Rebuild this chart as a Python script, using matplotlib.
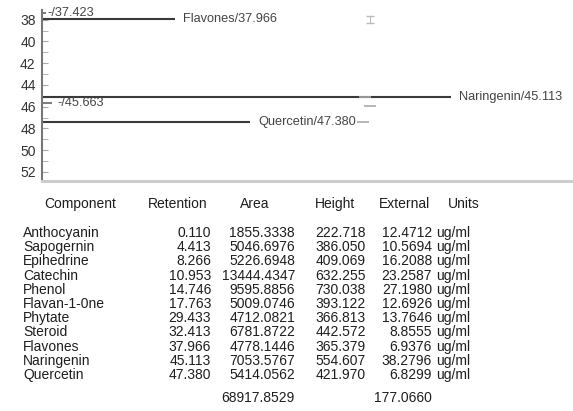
import matplotlib.pyplot as plt

plt.rcParams['font.family'] = ['Liberation Sans', 'DejaVu Sans']

# Peaks drawn in the chromatogram window (retention, min / relative response, %)
peak_names = ['Flavones', 'Naringenin', 'Quercetin']
peak_rt = [37.966, 45.113, 47.380]
peak_resp = [25.0, 77.0, 39.2]

# Small unnamed peaks
minor_rt = [37.423, 45.663]
minor_resp = [0.8, 1.9]

# Integration marks
mark_rt = [37.966, 45.113, 45.93, 47.380]
mark_x = [61.8, 60.8, 61.8, 60.5]

# Peak table
components = ['Anthocyanin', 'Sapogernin', 'Epihedrine', 'Catechin', 'Phenol',
              'Flavan-1-0ne', 'Phytate', 'Steroid', 'Flavones', 'Naringenin',
              'Quercetin']
retention = [0.110, 4.413, 8.266, 10.953, 14.746, 17.763, 29.433, 32.413,
             37.966, 45.113, 47.380]
area = [1855.3338, 5046.6976, 5226.6948, 13444.4347, 9595.8856, 5009.0746,
        4712.0821, 6781.8722, 4778.1446, 7053.5767, 5414.0562]
height = [222.718, 386.050, 409.069, 632.255, 730.038, 393.122, 366.813,
          442.572, 365.379, 554.607, 421.970]
external = [12.4712, 10.5694, 16.2088, 23.2587, 27.1980, 12.6926, 13.7646,
            8.8555, 6.9376, 38.2796, 6.8299]
units = ['ug/ml'] * len(components)
area_total = 68917.8529
external_total = 177.0660

W, H = 573, 411
fig = plt.figure(figsize=(W / 100, H / 100), dpi=100)

# chromatogram strip, retention running downwards
ax = fig.add_axes([42 / W, 1 - 181 / H, 531 / W, 171 / H])
ax.set_xlim(0, 100)
ax.set_ylim(52.83, 37.11)

ax.hlines(peak_rt, 0, peak_resp, color='#3a3a3a', lw=1.5)
ax.hlines(minor_rt, 0, minor_resp, color='#666666', lw=1.2)

for name, rt, resp in zip(peak_names, peak_rt, peak_resp):
    ax.annotate(f'{name}/{rt:.3f}', (resp, rt), xytext=(8, 0),
                textcoords='offset pixels', va='center', ha='left',
                fontsize=9.2, color='#444444')
ax.annotate(f'-/{minor_rt[0]:.3f}', (0, minor_rt[0]), xytext=(5, 0),
            textcoords='offset pixels', va='center', ha='left',
            fontsize=9.2, color='#444444')
ax.annotate(f'-/{minor_rt[1]:.3f}', (0, minor_rt[1]), xytext=(15, 0),
            textcoords='offset pixels', va='center', ha='left',
            fontsize=9.2, color='#444444')

ax.errorbar(mark_x[0], mark_rt[0], yerr=0.35, color='#bbbbbb', lw=0.8,
            capsize=3)
ax.plot(mark_x[1:], mark_rt[1:], ls='none', marker='_', ms=8, mew=1.2,
        color='#aaaaaa')

ax.set_yticks(range(38, 53, 2))
ax.set_yticks(range(39, 53, 2), minor=True)
ax.set_xticks([])
ax.tick_params(axis='y', which='both', direction='in', length=4,
               color='#aaaaaa', pad=4.5, labelsize=10, labelcolor='#333333')
for s in ['top', 'right']:
    ax.spines[s].set_visible(False)
ax.spines['left'].set_color('#777777')
ax.spines['left'].set_linewidth(1.5)
ax.spines['bottom'].set_color('#cccccc')
ax.spines['bottom'].set_linewidth(2.2)

# table below the strip
txt = dict(fontsize=10, color='#1e1e1e', va='baseline')


def put(x, y, s, ha):
    fig.text(x / W, 1 - (y + 4) / H, s, ha=ha, **txt)


headers = ['Component', 'Retention', 'Area', 'Height', 'External', 'Units']
header_x = [80, 178, 255, 335, 404, 464]
for h, x in zip(headers, header_x):
    put(x, 204, h, 'center')

row_y = [233 + 14.2 * i for i in range(len(components))]
for i, y in enumerate(row_y):
    put(23, y, components[i], 'left')
    put(211, y, f'{retention[i]:.3f}', 'right')
    put(295, y, f'{area[i]:.4f}', 'right')
    put(366, y, f'{height[i]:.3f}', 'right')
    put(432, y, f'{external[i]:.4f}', 'right')
    put(436, y, units[i], 'left')

put(295, 398, f'{area_total:.4f}', 'right')
put(432, 398, f'{external_total:.4f}', 'right')

fig.savefig('out.png', dpi=100)
